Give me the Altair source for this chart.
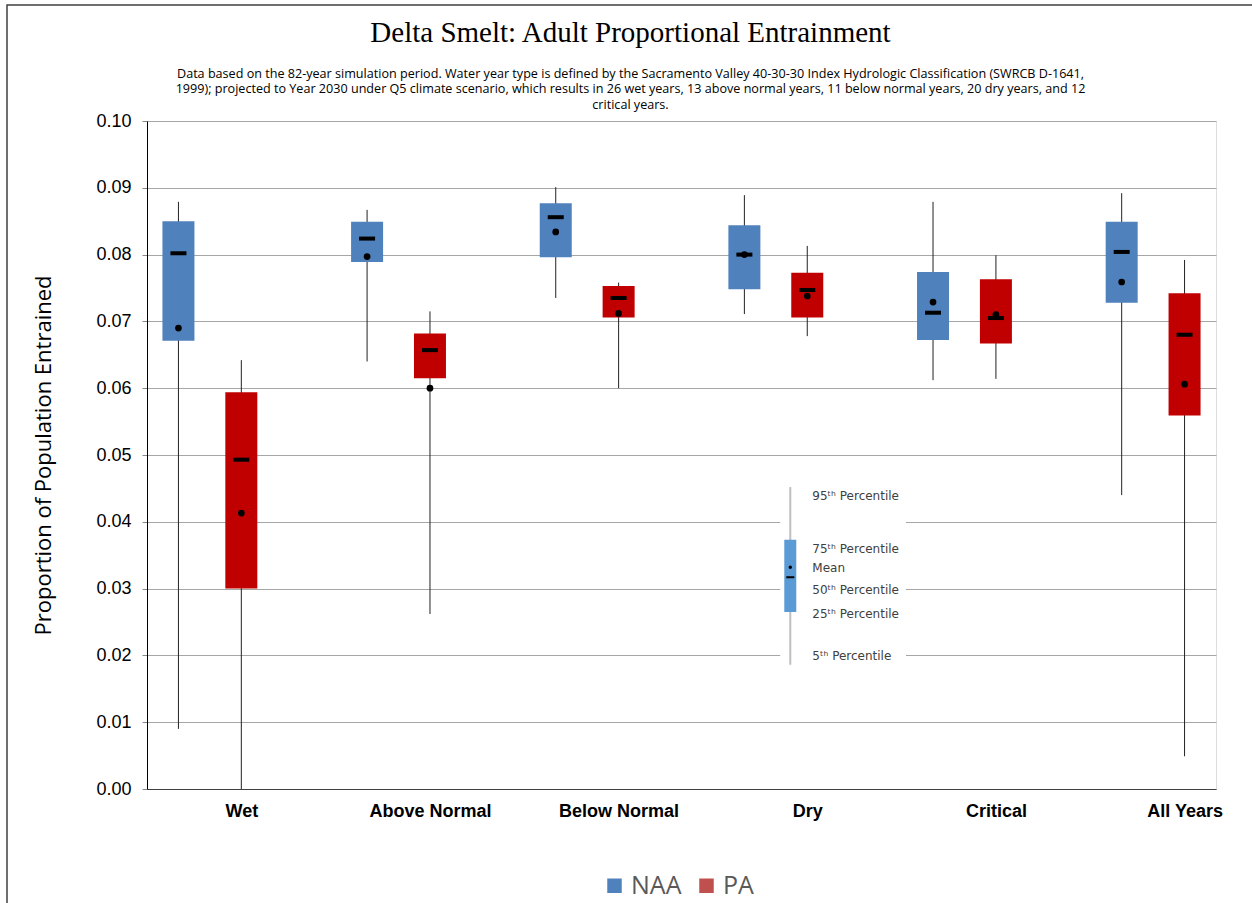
import json
import altair as alt
import pandas as pd

categories = ["Wet", "Above Normal", "Below Normal", "Dry", "Critical", "All Years"]
series = ["NAA", "PA"]

p95_naa = [0.0879, 0.0867, 0.0901, 0.0889, 0.0879, 0.0892]
p75_naa = [0.0850, 0.0849, 0.0877, 0.0844, 0.0774, 0.0849]
med_naa = [0.0802, 0.0824, 0.0856, 0.0800, 0.0713, 0.0804]
mean_naa = [0.0690, 0.0797, 0.0834, 0.0800, 0.0729, 0.0759]
p25_naa = [0.0671, 0.0789, 0.0796, 0.0748, 0.0672, 0.0728]
p5_naa = [0.0090, 0.0640, 0.0735, 0.0711, 0.0612, 0.0440]

p95_pa = [0.0642, 0.0715, 0.0758, 0.0813, 0.0799, 0.0792]
p75_pa = [0.0594, 0.0682, 0.0753, 0.0773, 0.0763, 0.0742]
med_pa = [0.0493, 0.0657, 0.0735, 0.0747, 0.0705, 0.0680]
mean_pa = [0.0413, 0.0600, 0.0712, 0.0738, 0.0710, 0.0606]
p25_pa = [0.0300, 0.0615, 0.0706, 0.0706, 0.0667, 0.0559]
p5_pa = [0.0000, 0.0262, 0.0600, 0.0678, 0.0614, 0.0049]

y_ticks = [0.00, 0.01, 0.02, 0.03, 0.04, 0.05, 0.06, 0.07, 0.08, 0.09, 0.10]

# explanatory key (inset)
key_labels = ["95ᵗʰ Percentile", "75ᵗʰ Percentile", "Mean",
              "50ᵗʰ Percentile", "25ᵗʰ Percentile", "5ᵗʰ Percentile"]
key_label_y = [0.0439, 0.0359, 0.0331, 0.0298, 0.0262, 0.0199]
key_stats = {"p95": 0.0452, "p75": 0.0373, "mean": 0.0332, "med": 0.0317,
             "p25": 0.0265, "p5": 0.0186}
key_x = 9.73
key_text_x = 10.08
key_bg = {"x": 9.57, "x2": 11.57, "y": 0.0456, "y2": 0.0181}

title_text = "Delta Smelt: Adult Proportional Entrainment"
subtitle_lines = [
    "Data based on the 82-year simulation period.  Water year type is defined by the Sacramento Valley 40-30-30 Index Hydrologic Classification (SWRCB D-1641,",
    "1999); projected to Year 2030 under Q5 climate scenario, which results in 26 wet years, 13 above normal years, 11 below normal years, 20 dry years, and 12",
    "critical years.",
]

rows = []
stats = {"NAA": (p5_naa, p25_naa, med_naa, mean_naa, p75_naa, p95_naa),
         "PA": (p5_pa, p25_pa, med_pa, mean_pa, p75_pa, p95_pa)}
for g, cat in enumerate(categories):
    for s, ser in enumerate(series):
        p5, p25, med, mean, p75, p95 = (a[g] for a in stats[ser])
        rows.append({"category": cat, "series": ser, "pos": 3 * g + s,
                     "p5": p5, "p25": p25, "median": med, "mean": mean,
                     "p75": p75, "p95": p95})
df = pd.DataFrame(rows)

x_scale = alt.Scale(domain=[-0.5, 16.5], nice=False, zero=False, padding=0)
y_scale = alt.Scale(domain=[0, 0.1], nice=False, padding=0)
label_expr = json.dumps(categories) + "[round((datum.value - 1) / 3)]"

x_enc = alt.X("pos:Q", scale=x_scale,
              axis=alt.Axis(values=[1, 4, 7, 10, 13, 16], labelExpr=label_expr,
                            title=None, grid=False, ticks=False,
                            labelFont="Liberation Sans", labelFontSize=18,
                            labelFontWeight="bold", labelColor="black",
                            labelPadding=13, domainColor="#404040"))
y_axis = alt.Axis(values=y_ticks, format=".2f", title="Proportion of Population Entrained",
                  titleFont="Open Sans", titleFontSize=22, titleFontWeight="normal",
                  titleColor="black", titleX=-104, titleY=334, titleAngle=270,
                  titleAlign="center", titleBaseline="middle",
                  labelFont="Liberation Sans", labelFontSize=18, labelColor="black",
                  labelPadding=11, tickSize=5, tickColor="#888888",
                  domainColor="black", gridColor="#A6A6A6", gridWidth=1)

base = alt.Chart(df)

border = alt.Chart(pd.DataFrame({"b": [0]})).mark_rect(
    fill="transparent", stroke="#404040", strokeWidth=1.5, clip=False
).encode(x=alt.value(-140), x2=alt.value(1140), y=alt.value(-116), y2=alt.value(820))

# small squares hidden beneath the boxes; they only carry the legend
legend_layer = base.mark_square(size=16, opacity=1).encode(
    x="pos:Q", y="median:Q",
    color=alt.Color("series:N",
                    scale=alt.Scale(domain=series, range=["#4F81BD", "#C0504D"]),
                    legend=alt.Legend(title=None, orient="none", direction="horizontal",
                                      legendX=455, legendY=752, symbolType="square",
                                      symbolSize=210, symbolOpacity=1, symbolStrokeWidth=0,
                                      labelFont="Open Sans", labelFontSize=25,
                                      labelColor="#595959", labelOffset=4,
                                      columnPadding=12)),
)

whiskers = base.mark_rule(color="#222222", strokeWidth=1).encode(
    x=x_enc,
    y=alt.Y("p5:Q", scale=y_scale, axis=y_axis),
    y2="p95:Q",
)

boxes = base.mark_bar(size=32).encode(
    x="pos:Q",
    y="p25:Q",
    y2="p75:Q",
    fill=alt.Fill("series:N", scale=alt.Scale(domain=series, range=["#4F81BD", "#C00000"]),
                  legend=None),
)

medians = base.mark_tick(orient="horizontal", size=16, thickness=4, color="black",
                         opacity=1).encode(x="pos:Q", y="median:Q")

means = base.mark_circle(size=45, color="black", opacity=1).encode(x="pos:Q", y="mean:Q")

# inset key
key_bg_layer = alt.Chart(pd.DataFrame([key_bg])).mark_rect(color="white").encode(
    x="x:Q", x2="x2:Q", y="y:Q", y2="y2:Q")
key_df = pd.DataFrame([dict(x=key_x, **key_stats)])
key_whisker = alt.Chart(key_df).mark_rule(color="#BFBFBF", strokeWidth=2).encode(
    x="x:Q", y="p5:Q", y2="p95:Q")
key_box = alt.Chart(key_df).mark_bar(size=12, color="#5B9BD5").encode(
    x="x:Q", y="p25:Q", y2="p75:Q")
key_med = alt.Chart(key_df).mark_tick(orient="horizontal", size=8, thickness=2,
                                      color="black", opacity=1).encode(x="x:Q", y="med:Q")
key_mean = alt.Chart(key_df).mark_circle(size=12, color="black", opacity=1).encode(
    x="x:Q", y="mean:Q")
key_text = alt.Chart(pd.DataFrame({"label": key_labels, "y": key_label_y,
                                   "x": [key_text_x] * len(key_labels)})).mark_text(
    align="left", baseline="middle", font="DejaVu Sans", fontSize=12, color="#404040"
).encode(x="x:Q", y="y:Q", text="label:N")

chart = alt.layer(
    border, key_bg_layer, legend_layer, whiskers, boxes, medians, means,
    key_whisker, key_box, key_med, key_mean, key_text,
).properties(
    width=1069, height=668,
    title=alt.TitleParams(text=title_text, subtitle=subtitle_lines,
                          font="Liberation Serif", fontSize=29, fontWeight="normal",
                          color="black", anchor="middle", dx=-51, dy=117, offset=10,
                          subtitleFont="Open Sans", subtitleFontSize=12.6,
                          subtitleColor="black", subtitleLineHeight=15.5,
                          subtitlePadding=20),
    autosize=alt.AutoSizeParams(type="none"),
    padding={"left": 147, "top": 121, "right": 36, "bottom": 114},
).configure_view(stroke=None).configure(background="white")

chart.save("out.html", embed_options={"renderer": "svg", "actions": False})
